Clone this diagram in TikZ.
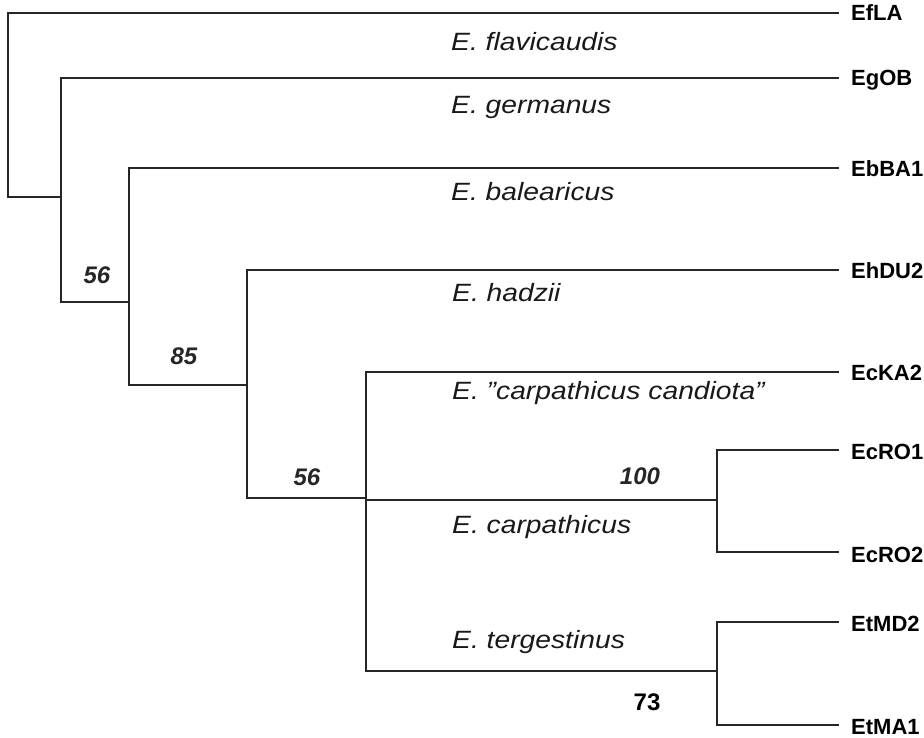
\documentclass[tikz,border=0pt]{standalone}
\usepackage{fontspec}
\setmainfont{Liberation Sans}
\begin{document}
\begin{tikzpicture}[x=1pt,y=-1pt,
  branch/.style={line width=2.9pt, draw=black!85, line cap=rect},
  sp/.style={anchor=west, inner sep=0pt, font=\fontsize{25}{25}\selectfont\itshape, text=black!90},
  code/.style={anchor=west, inner sep=0pt, font=\fontsize{22}{22}\selectfont\bfseries},
  bs/.style={inner sep=0pt, font=\fontsize{24}{24}\selectfont\bfseries\itshape, text=black!85},
  bsb/.style={inner sep=0pt, font=\fontsize{24}{24}\selectfont\bfseries}
]
\useasboundingbox (0,0) rectangle (924,738);

% internal node corners
\coordinate (a1) at (8,197);
\coordinate (b0) at (61,78);   \coordinate (b1) at (61,302);
\coordinate (c0) at (129,168); \coordinate (c1) at (129,385);
\coordinate (d0) at (247,270); \coordinate (d1) at (247,498);
\coordinate (e0) at (366,372); \coordinate (e1) at (366,671);
\coordinate (fm) at (717,500);
\coordinate (gm) at (717,671);

% leaf ends
\coordinate (tEfLA)  at (838,13);
\coordinate (tEgOB)  at (838,78);
\coordinate (tEbBA1) at (838,168);
\coordinate (tEhDU2) at (838,270);
\coordinate (tEcKA2) at (838,372);
\coordinate (tEcRO1) at (838,450);
\coordinate (tEcRO2) at (838,552);
\coordinate (tEtMD2) at (838,622);
\coordinate (tEtMA1) at (838,725);

% branches
\draw[branch] (tEfLA) -| (a1) -- (a1 -| b0);
\draw[branch] (tEgOB) -| (b1) -- (b1 -| c0);
\draw[branch] (tEbBA1) -| (c1) -- (c1 -| d0);
\draw[branch] (tEhDU2) -| (d1) -- (d1 -| e0);
\draw[branch] (tEcKA2) -| (e1) -- (gm);
\draw[branch] (e0 |- fm) -- (fm);
\draw[branch] (tEcRO1) -| (fm) |- (tEcRO2);
\draw[branch] (tEtMD2) -| (gm) |- (tEtMA1);

% terminal codes
\node[code] (EfLA)  at (851,13)  {EfLA};
\node[code] (EgOB)  at (851,80)  {EgOB};
\node[code] (EbBA1) at (851,169) {EbBA1};
\node[code] (EhDU2) at (851,271) {EhDU2};
\node[code] (EcKA2) at (851,373) {EcKA2};
\node[code] (EcRO1) at (851,452) {EcRO1};
\node[code] (EcRO2) at (851,555) {EcRO2};
\node[code] (EtMD2) at (851,624) {EtMD2};
\node[code] (EtMA1) at (851,727) {EtMA1};

% species names
\node[sp] (sfla) at (451,42)  {\scalebox{1.13}[1]{E. flavicaudis}};
\node[sp] (sger) at (451,107) {\scalebox{1.13}[1]{E. germanus}};
\node[sp] (sbal) at (451,192) {\scalebox{1.13}[1]{E. balearicus}};
\node[sp] (shad) at (452,293) {\scalebox{1.13}[1]{E. hadzii}};
\node[sp] (scan) at (452,393) {\scalebox{1.13}[1]{E. "carpathicus candiota"}};
\node[sp] (scar) at (452,527) {\scalebox{1.13}[1]{E. carpathicus}};
\node[sp] (ster) at (452,642) {\scalebox{1.13}[1]{E. tergestinus}};

% support values
\node[bs]  (v56a) at (97,275)  {56};
\node[bs]  (v85)  at (184,356) {85};
\node[bs]  (v56b) at (307,477) {56};
\node[bs]  (v100) at (640,476) {100};
\node[bsb] (v73)  at (647,702) {73};
\end{tikzpicture}
\end{document}
